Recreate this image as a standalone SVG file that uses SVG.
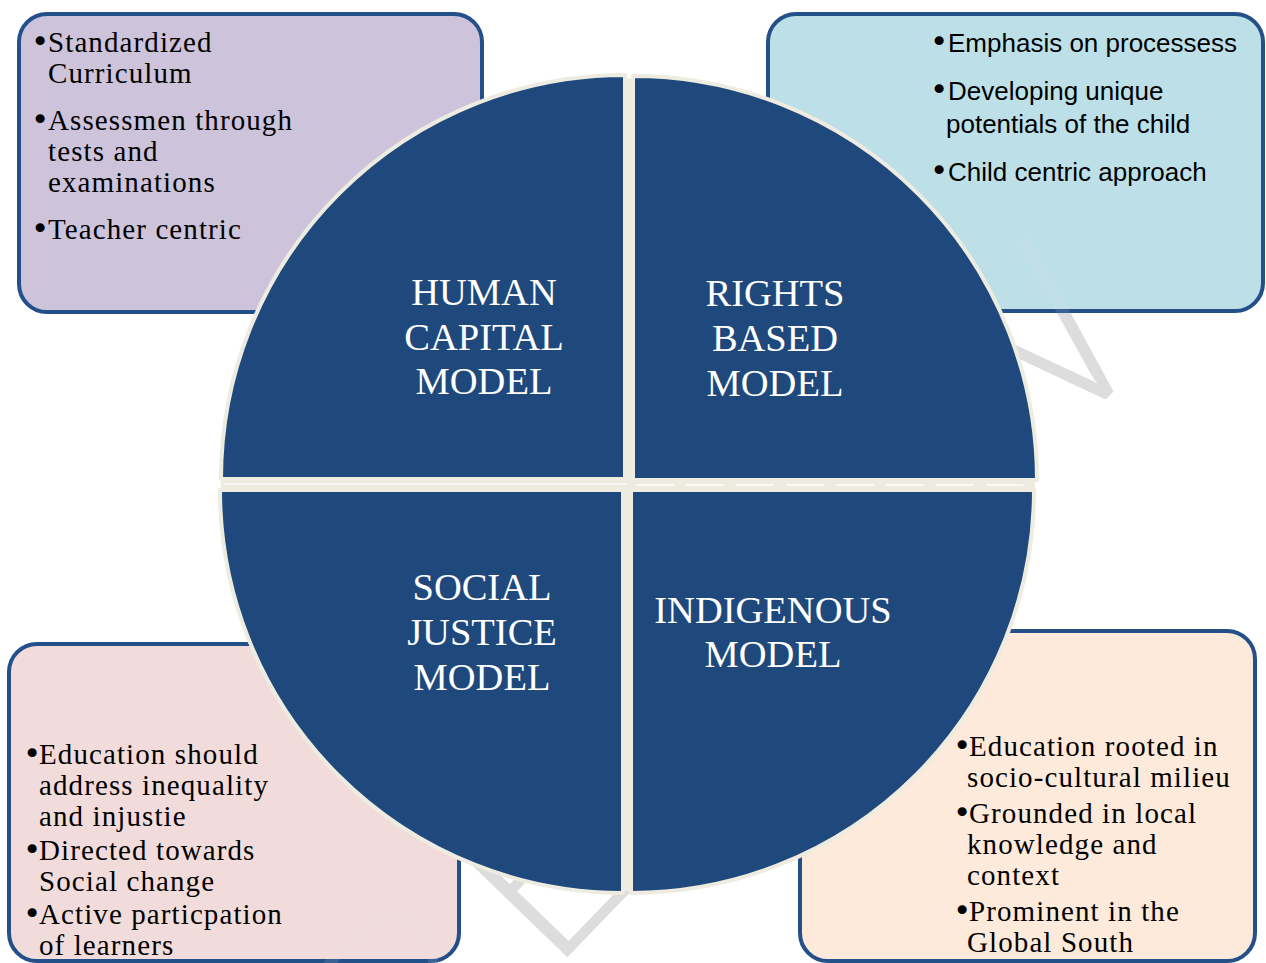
<svg xmlns="http://www.w3.org/2000/svg" width="1266" height="963" viewBox="0 0 1266 963">
<style>
.box{stroke:#24508a;stroke-width:4}
.serif{font-family:"Liberation Serif","Times New Roman",serif;font-size:29px;letter-spacing:1.1px;fill:#000}
.sans{font-family:"Liberation Sans",Arial,sans-serif;font-size:26px;fill:#000}
.b{font-family:"DejaVu Sans",sans-serif;font-size:31px;letter-spacing:0}
.quad{fill:#1f497d;stroke:#eeece1;stroke-width:4;stroke-linejoin:round}
.gap{fill:#eeece1}
.label{font-family:"Liberation Serif","Times New Roman",serif;font-size:38.5px;fill:#ffffff;text-anchor:middle}
.wm{font-family:Lato,sans-serif;font-weight:300;font-size:243px;letter-spacing:30px;fill:#dddddd;text-anchor:end}
</style>
<defs>
<text id="wmtext" class="wm" transform="translate(1176,327) rotate(-46)">PREVIEW</text>
</defs>
<rect width="1266" height="963" fill="#ffffff"/>
<g id="watermark">
<use href="#wmtext"/>
</g>
<g id="box-human-capital">
<rect class="box" x="19" y="14" width="463" height="298" rx="28" fill="#cdc3db"/>
<text class="serif"><tspan class="b" x="31" y="52">•</tspan><tspan x="48" y="52">Standardized</tspan><tspan x="48" y="83">Curriculum</tspan><tspan class="b" x="31" y="130">•</tspan><tspan x="48" y="130">Assessmen through</tspan><tspan x="48" y="161">tests and</tspan><tspan x="48" y="192">examinations</tspan><tspan class="b" x="31" y="239">•</tspan><tspan x="48" y="239">Teacher centric</tspan></text>
</g>
<g id="box-rights-based">
<rect class="box" x="768" y="14" width="495" height="297" rx="28" fill="#bde0e8"/>
<text class="sans"><tspan class="b" x="930" y="52">•</tspan><tspan x="948" y="52">Emphasis on processess</tspan><tspan class="b" x="930" y="100">•</tspan><tspan x="948" y="100">Developing unique</tspan><tspan x="946" y="133">potentials of the child</tspan><tspan class="b" x="930" y="181">•</tspan><tspan x="948" y="181">Child centric approach</tspan></text>
</g>
<g id="box-social-justice">
<rect class="box" x="9" y="644" width="450" height="317" rx="28" fill="#f2dcdb"/>
<text class="serif"><tspan class="b" x="23" y="764">•</tspan><tspan x="39" y="764">Education should</tspan><tspan x="39" y="795">address inequality</tspan><tspan x="39" y="826">and injustie</tspan><tspan class="b" x="23" y="860">•</tspan><tspan x="39" y="860">Directed towards</tspan><tspan x="39" y="891">Social change</tspan><tspan class="b" x="23" y="924">•</tspan><tspan x="39" y="924">Active particpation</tspan><tspan x="39" y="955">of learners</tspan></text>
</g>
<g id="box-indigenous">
<rect class="box" x="800" y="631" width="455" height="330" rx="28" fill="#fdeadb"/>
<text class="serif"><tspan class="b" x="953" y="756">•</tspan><tspan x="969" y="756">Education rooted in</tspan><tspan x="967" y="787">socio-cultural milieu</tspan><tspan class="b" x="953" y="823">•</tspan><tspan x="969" y="823">Grounded in local</tspan><tspan x="967" y="854">knowledge and</tspan><tspan x="967" y="885">context</tspan><tspan class="b" x="953" y="921">•</tspan><tspan x="969" y="921">Prominent in the</tspan><tspan x="967" y="952">Global South</tspan></text>
</g>
<g id="watermark-tint" opacity="0.12">
<use href="#wmtext"/>
</g>
<g id="connectors"/>
<g id="circle">
<g id="quad-human-capital">
<path class="quad" d="M625,479 H221 A404,404 0 0 1 625,75 Z"/>
</g>
<g id="quad-rights-based">
<path class="quad" d="M633,480 V76 A404,404 0 0 1 1037,480 Z"/>
</g>
<g id="quad-social-justice">
<path class="quad" d="M623,490 V893 A403,403 0 0 1 220,490 Z"/>
</g>
<g id="quad-indigenous">
<path class="quad" d="M631,490 H1034 A403,403 0 0 1 631,893 Z"/>
</g>
<rect class="gap" x="624" y="78" width="10" height="402"/>
<rect class="gap" x="622" y="490" width="10" height="401"/>
<rect class="gap" x="221" y="478" width="814" height="13"/>
<line x1="224" y1="484" x2="627" y2="484" stroke="#ffffff" stroke-width="1.5" opacity="0.9"/>
<line x1="636" y1="485" x2="1030" y2="485" stroke="#ffffff" stroke-width="1.5" stroke-dasharray="38 12" opacity="0.9"/>
<text class="label"><tspan x="484" y="305">HUMAN</tspan><tspan x="484" y="350">CAPITAL</tspan><tspan x="484" y="394">MODEL</tspan></text>
<text class="label"><tspan x="775" y="306">RIGHTS</tspan><tspan x="775" y="351">BASED</tspan><tspan x="775" y="396">MODEL</tspan></text>
<text class="label"><tspan x="482" y="600">SOCIAL</tspan><tspan x="482" y="645">JUSTICE</tspan><tspan x="482" y="690">MODEL</tspan></text>
<text class="label"><tspan x="773" y="623">INDIGENOUS</tspan><tspan x="773" y="667">MODEL</tspan></text>
</g>
</svg>
